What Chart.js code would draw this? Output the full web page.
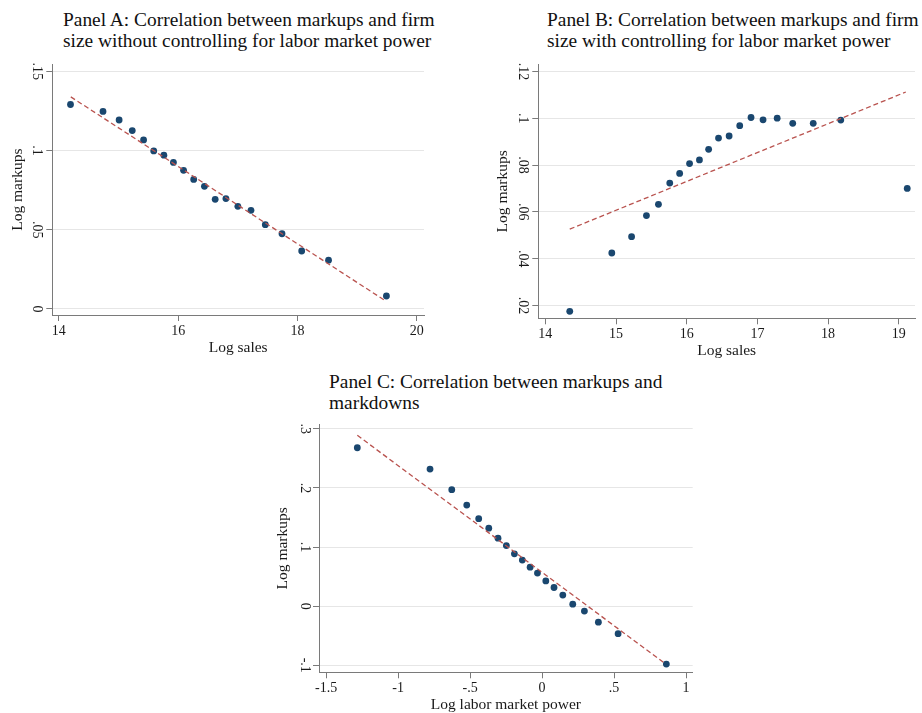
<!DOCTYPE html>
<html><head><meta charset="utf-8">
<script src="https://cdn.jsdelivr.net/npm/chart.js@4.4.0/dist/chart.umd.min.js"></script>
<style>
html,body{margin:0;padding:0;background:#fff;}
body{width:922px;height:713px;position:relative;overflow:hidden;font-family:'Liberation Serif',serif;}
.ttl{position:absolute;font-family:'Liberation Serif',serif;font-size:19.4px;line-height:21px;color:#111;white-space:nowrap;}
canvas{position:absolute;}
</style></head><body>
<div class="ttl" style="left:63px;top:9px;">Panel A: Correlation between markups and firm<br>size without controlling for labor market power</div>
<div class="ttl" style="left:547px;top:9px;">Panel B: Correlation between markups and firm<br>size with controlling for labor market power</div>
<div class="ttl" style="left:329px;top:371px;">Panel C: Correlation between markups and<br>markdowns</div>
<canvas id="cA" width="440" height="305" style="left:0px;top:55px;"></canvas>
<canvas id="cB" width="462" height="305" style="left:460px;top:55px;"></canvas>
<canvas id="cC" width="440" height="303" style="left:270px;top:415px;"></canvas>
<script>
// ---- Panel A data ----
const panelA_x = [14.195,14.74,15.01,15.23,15.42,15.59,15.76,15.92,16.09,16.26,16.44,16.62,16.80,17.00,17.22,17.46,17.74,18.07,18.52,19.49];
const panelA_y = [0.1291,0.1247,0.1193,0.1126,0.1067,0.0998,0.0971,0.0925,0.0875,0.0818,0.0774,0.0692,0.0697,0.0648,0.0623,0.0532,0.0475,0.0366,0.0308,0.0082];
const panelA_fitX = [14.20,19.48];
const panelA_fitY = [0.1339,0.0050];
const panelA_xTicks = [14,16,18,20];
const panelA_xTickLabels = ['14','16','18','20'];
const panelA_yTicks = [0,0.05,0.1,0.15];
const panelA_yTickLabels = ['0','.05','.1','.15'];

// ---- Panel B data ----
const panelB_x = [14.345,14.94,15.22,15.43,15.60,15.76,15.90,16.04,16.18,16.31,16.45,16.60,16.75,16.91,17.08,17.28,17.50,17.79,18.18,19.12];
const panelB_y = [0.0175,0.0424,0.0494,0.0584,0.0632,0.0723,0.0764,0.0806,0.0822,0.0867,0.0915,0.0924,0.0968,0.1003,0.0993,0.1000,0.0978,0.0978,0.0992,0.0700];
const panelB_fitX = [14.345,19.10];
const panelB_fitY = [0.0526,0.1112];
const panelB_xTicks = [14,15,16,17,18,19];
const panelB_xTickLabels = ['14','15','16','17','18','19'];
const panelB_yTicks = [0.02,0.04,0.06,0.08,0.1,0.12];
const panelB_yTickLabels = ['.02','.04','.06','.08','.1','.12'];

// ---- Panel C data ----
const panelC_x = [-1.283,-0.778,-0.627,-0.523,-0.440,-0.370,-0.306,-0.248,-0.192,-0.137,-0.083,-0.032,0.026,0.083,0.144,0.213,0.294,0.391,0.528,0.863];
const panelC_y = [0.268,0.232,0.197,0.171,0.148,0.132,0.115,0.1025,0.0886,0.078,0.066,0.056,0.0427,0.0316,0.0188,0.0033,-0.0083,-0.0271,-0.0465,-0.098];
const panelC_fitX = [-1.283,0.854];
const panelC_fitY = [0.289,-0.097];
const panelC_xTicks = [-1.5,-1,-0.5,0,0.5,1];
const panelC_xTickLabels = ['-1.5','-1','-.5','0','.5','1'];
const panelC_yTicks = [-0.1,0,0.1,0.2,0.3];
const panelC_yTickLabels = ['-.1','0','.1','.2','.3'];

const FONT = "'Liberation Serif', serif";
const TXT = '#1a1a1a';
const AXC = '#7a7a7a';

function makePanel(id, xs, ys, fx, fy, xt, xtl, yt, ytl, xTitle, yTitle, g) {
  const pts = xs.map((x, i) => ({x: x, y: ys[i]}));
  const fit = fx.map((x, i) => ({x: x, y: fy[i]}));
  return new Chart(document.getElementById(id), {
    type: 'scatter',
    data: {datasets: [
      {data: fit, showLine: true, borderColor: '#b9534f', borderWidth: 1.3, borderDash: [5, 3],
       pointRadius: 0, pointHoverRadius: 0, fill: false, order: 0},
      {data: pts, backgroundColor: '#1a476f', borderColor: '#1a476f', borderWidth: 0,
       pointRadius: 3.4, pointHoverRadius: 3.4, order: 1}
    ]},
    options: {
      responsive: false, animation: false, devicePixelRatio: 1,
      events: [],
      layout: {padding: g.pad},
      plugins: {legend: {display: false}, tooltip: {enabled: false}},
      scales: {
        x: {
          type: 'linear', min: g.xmin, max: g.xmax,
          afterBuildTicks: s => { s.ticks = xt.map(v => ({value: v})); },
          afterFit: s => { s.height = g.xh; },
          ticks: {callback: v => xtl[xt.indexOf(v)], font: {family: FONT, size: 14}, color: TXT,
                  padding: 2, maxRotation: 0, minRotation: 0, autoSkip: false},
          grid: {display: true, drawOnChartArea: false, drawTicks: true, tickLength: 6, tickColor: AXC, tickWidth: 1},
          border: {display: true, color: AXC, width: 1},
          title: {display: true, text: xTitle, font: {family: FONT, size: 15.5}, color: TXT,
                  padding: {top: 0, bottom: g.xtp}}
        },
        y: {
          type: 'linear', min: g.ymin, max: g.ymax,
          afterBuildTicks: s => { s.ticks = yt.map(v => ({value: v})); },
          afterFit: s => { s.width = g.yw; },
          ticks: {callback: v => ytl[yt.indexOf(v)], font: {family: FONT, size: 14}, color: TXT,
                  padding: 1, minRotation: -90, maxRotation: -90, crossAlign: 'center', autoSkip: false},
          grid: {display: true, color: '#e6e6e6', lineWidth: 1, drawTicks: true, tickLength: 6, tickColor: AXC, tickWidth: 1},
          border: {display: true, color: AXC, width: 1},
          title: {display: true, text: yTitle, font: {family: FONT, size: 15.5}, color: TXT,
                  padding: {top: g.ytp, bottom: 0}}
        }
      }
    }
  });
}

makePanel('cA', panelA_x, panelA_y, panelA_fitX, panelA_fitY,
  panelA_xTicks, panelA_xTickLabels, panelA_yTicks, panelA_yTickLabels,
  'Log sales', 'Log markups',
  {pad: {left: 0, top: 8, right: 16, bottom: 0}, xmin: 13.89, xmax: 20.12, ymin: -0.0038, ymax: 0.1544,
   xh: 45, yw: 52.3, xtp: 2.7, ytp: 9});

makePanel('cB', panelB_x, panelB_y, panelB_fitX, panelB_fitY,
  panelB_xTicks, panelB_xTickLabels, panelB_yTicks, panelB_yTickLabels,
  'Log sales', 'Log markups',
  {pad: {left: 26, top: 8, right: 7, bottom: 0}, xmin: 13.90, xmax: 19.23, ymin: 0.0145, ymax: 0.123,
   xh: 41.7, yw: 52.3, xtp: 0, ytp: 8});

makePanel('cC', panelC_x, panelC_y, panelC_fitX, panelC_fitY,
  panelC_xTicks, panelC_xTickLabels, panelC_yTicks, panelC_yTickLabels,
  'Log labor market power', 'Log markups',
  {pad: {left: 0, top: 5, right: 17.3, bottom: 0}, xmin: -1.549, xmax: 1.046, ymin: -0.1119, ymax: 0.3075,
   xh: 45.7, yw: 49, xtp: 3.7, ytp: 4});
</script>
</body></html>
